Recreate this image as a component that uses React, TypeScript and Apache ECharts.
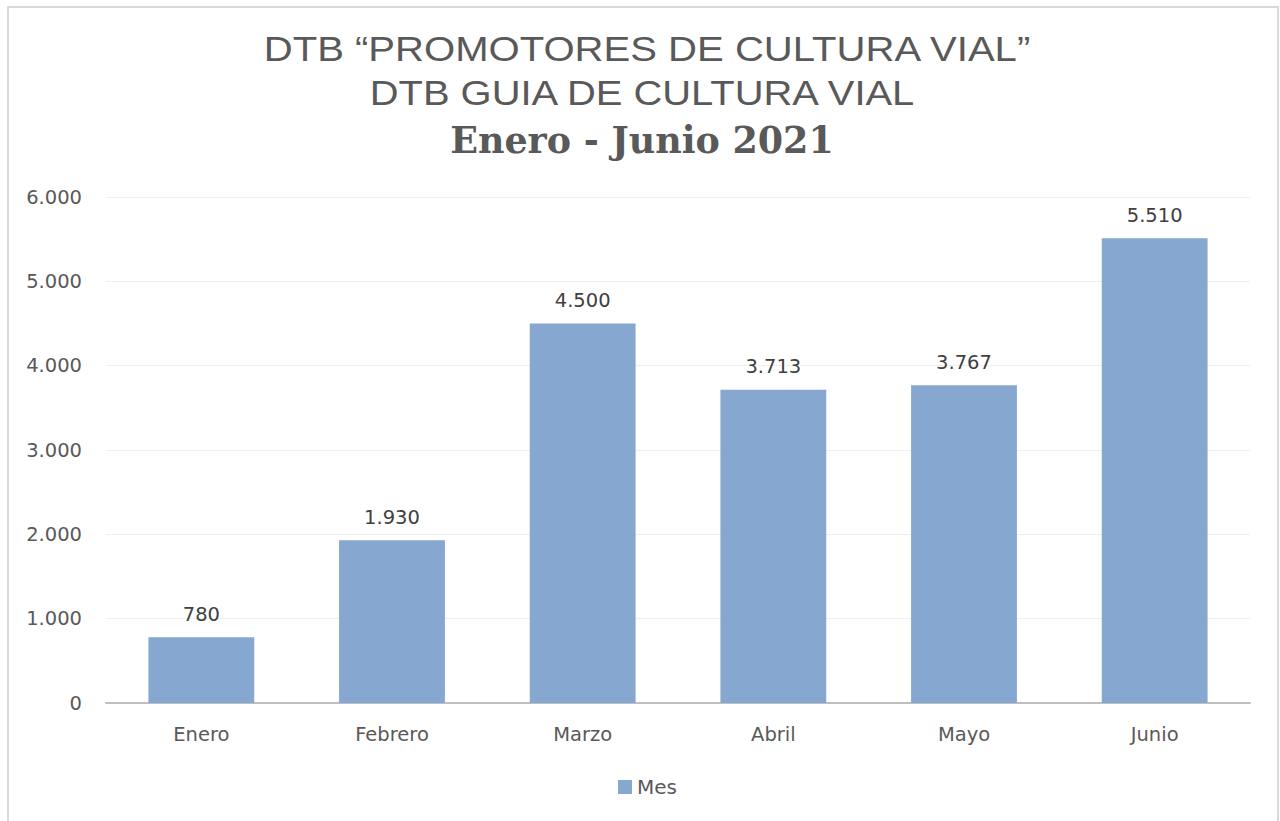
import React, { useEffect, useRef } from "react";
import * as echarts from "echarts";

const categories = ["Enero", "Febrero", "Marzo", "Abril", "Mayo", "Junio"];
const values = [780, 1930, 4500, 3713, 3767, 5510];
const seriesName = "Mes";
const titleLines = ["DTB “PROMOTORES DE CULTURA VIAL”", "DTB GUIA DE CULTURA VIAL", "Enero - Junio 2021"];
const yTicks = [0, 1000, 2000, 3000, 4000, 5000, 6000];

const fmt = (v: number) => {
  const s = String(Math.round(v));
  return s.replace(/\B(?=(\d{3})+(?!\d))/g, ".");
};

const FONT = "'DejaVu Sans', 'Noto Sans', sans-serif";

export default function App() {
  const ref = useRef<HTMLDivElement>(null);
  useEffect(() => {
    document.body.style.margin = "0";
    const chart = echarts.init(ref.current!, null, { renderer: "svg" });
    chart.setOption({
      animation: false,
      backgroundColor: "#ffffff",
      graphic: [
        {
          type: "rect",
          shape: { x: 8, y: 7, width: 1270, height: 830 },
          style: { fill: "none", stroke: "#D9D9D9", lineWidth: 2 },
          silent: true,
        },
        {
          type: "text",
          x: 647,
          y: 49,
          scaleX: 1.145,
          style: {
            text: titleLines[0],
            font: "35px 'Liberation Sans', Arial, sans-serif",
            fill: "#595959",
            align: "center",
            verticalAlign: "middle",
          },
        },
        {
          type: "text",
          x: 642,
          y: 93,
          scaleX: 1.14,
          style: {
            text: titleLines[1],
            font: "35px 'Liberation Sans', Arial, sans-serif",
            fill: "#595959",
            align: "center",
            verticalAlign: "middle",
          },
        },
        {
          type: "text",
          x: 642,
          y: 139,
          scaleX: 1.065,
          style: {
            text: titleLines[2],
            font: "bold 38px 'DejaVu Serif Condensed', 'Liberation Serif', serif",
            fill: "#595959",
            align: "center",
            verticalAlign: "middle",
          },
        },
      ],
      legend: {
        left: 613,
        top: 772,
        itemWidth: 14,
        itemHeight: 14,
        icon: "rect",
        itemGap: 6,
        textStyle: { color: "#595959", fontSize: 20, fontFamily: FONT },
        data: [seriesName],
      },
      grid: { left: 106, right: 30, top: 197, bottom: 118, containLabel: false },
      xAxis: {
        type: "category",
        data: categories,
        axisLine: { show: true, lineStyle: { color: "#BFBFBF", width: 2 } },
        axisTick: { show: false },
        axisLabel: {
          color: "#595959",
          fontSize: 19.5,
          margin: 21,
          fontFamily: FONT,
        },
      },
      yAxis: {
        type: "value",
        min: yTicks[0],
        max: yTicks[yTicks.length - 1],
        interval: 1000,
        axisLine: { show: false },
        axisTick: { show: false },
        splitLine: { lineStyle: { color: "#EFEFEF", width: 1 } },
        axisLabel: {
          color: "#595959",
          fontSize: 19.5,
          margin: 24,
          fontFamily: FONT,
          formatter: (v: number) => fmt(v),
        },
      },
      series: [
        {
          name: seriesName,
          type: "bar",
          data: values,
          barWidth: "55.5%",
          itemStyle: { color: "#85A7D0" },
          label: {
            show: true,
            position: "top",
            distance: 13,
            color: "#404040",
            fontSize: 19.5,
            fontFamily: FONT,
            formatter: (p: any) => fmt(p.value),
          },
        },
      ],
    });
    return () => chart.dispose();
  }, []);
  return <div ref={ref} style={{ position: "absolute", left: 0, top: 0, width: 1280, height: 821 }} />;
}
